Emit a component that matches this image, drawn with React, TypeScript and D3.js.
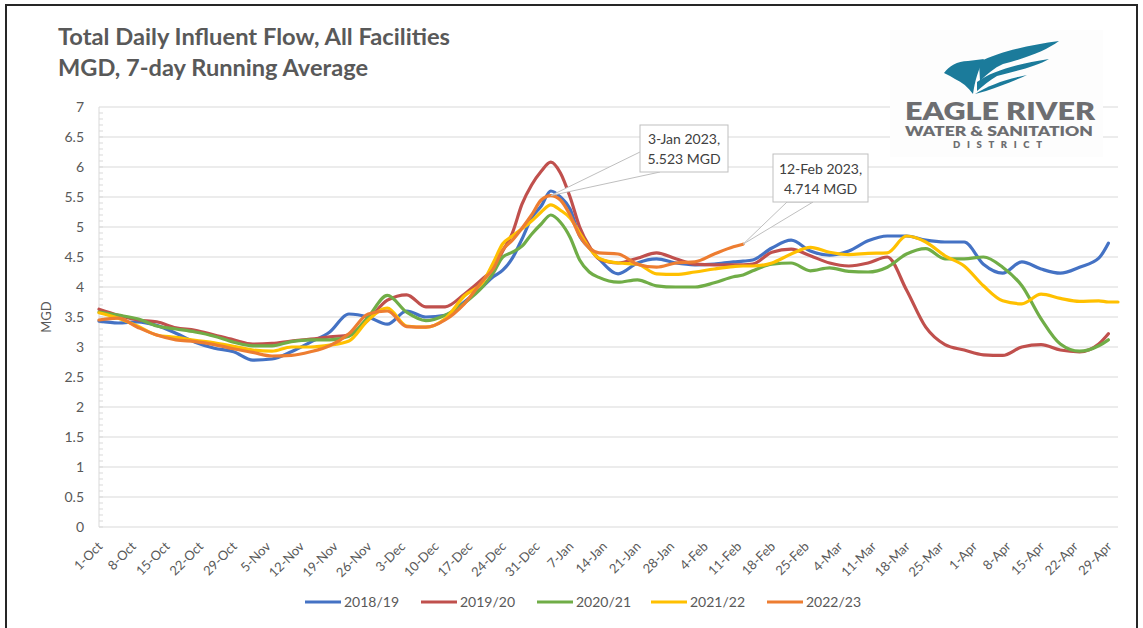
import React from 'react';
import * as d3 from 'd3';

// days since 1-Oct at which the curves were read
const sampleDays = [
  0, 4, 8, 12, 16, 20, 24, 28, 32, 36, 40, 44, 48, 52, 56, 60, 64, 68, 72, 76, 80,
  82, 84, 86, 88, 90, 92, 94, 96, 98, 100, 102, 104,
  108, 112, 116, 120, 124, 128, 132, 134,
  136, 140, 144, 148, 152, 156, 160, 164, 168, 172, 176, 180, 184, 188, 192, 196, 200, 204, 208,
  210, 212,
];

const flow2018 = [
  3.43, 3.40, 3.42, 3.36, 3.23, 3.08, 2.98, 2.92, 2.78, 2.80, 2.92, 3.08, 3.25, 3.55, 3.50, 3.38, 3.60, 3.50, 3.53, 3.75, 4.02,
  4.17, 4.28, 4.48, 4.80, 5.15, 5.35, 5.60, 5.50, 5.30, 4.85, 4.65, 4.47,
  4.22, 4.40, 4.47, 4.40, 4.37, 4.38, 4.42, 4.43,
  4.45, 4.65, 4.78, 4.60, 4.53, 4.60, 4.77, 4.85, 4.85, 4.78, 4.75, 4.75, 4.38, 4.23, 4.42, 4.30, 4.23, 4.33, 4.48,
  4.73, null,
];

const flow2019 = [
  3.63, 3.53, 3.45, 3.42, 3.32, 3.28, 3.20, 3.12, 3.05, 3.06, 3.10, 3.13, 3.17, 3.20, 3.45, 3.78, 3.87, 3.67, 3.67, 3.88, 4.15,
  4.30, 4.60, 4.90, 5.38, 5.70, 5.93, 6.08, 5.90, 5.50, 5.00, 4.68, 4.47,
  4.40, 4.48, 4.57, 4.47, 4.38, 4.37, 4.37, 4.37,
  4.38, 4.58, 4.63, 4.52, 4.40, 4.35, 4.40, 4.50, 3.95, 3.33, 3.04, 2.95, 2.87, 2.86, 3.00, 3.04, 2.95, 2.92, 3.05,
  3.22, null,
];

const flow2020 = [
  3.58, 3.53, 3.47, 3.35, 3.30, 3.25, 3.18, 3.08, 3.02, 3.02, 3.09, 3.12, 3.12, 3.18, 3.50, 3.86, 3.58, 3.44, 3.53, 3.73, 4.02,
  4.23, 4.50, 4.58, 4.68, 4.88, 5.05, 5.20, 5.08, 4.83, 4.45, 4.25, 4.16,
  4.08, 4.12, 4.02, 4.00, 4.00, 4.07, 4.17, 4.20,
  4.27, 4.38, 4.40, 4.27, 4.32, 4.26, 4.25, 4.33, 4.55, 4.64, 4.47, 4.47, 4.50, 4.33, 4.02, 3.47, 3.05, 2.93, 3.02,
  3.12, null,
];

const flow2021 = [
  3.57, 3.48, 3.35, 3.20, 3.16, 3.11, 3.07, 3.01, 2.95, 2.93, 3.00, 3.00, 3.03, 3.10, 3.45, 3.65, 3.35, 3.33, 3.47, 3.85, 4.10,
  4.40, 4.72, 4.85, 4.97, 5.10, 5.25, 5.37, 5.28, 5.15, 4.90, 4.65, 4.48,
  4.40, 4.38, 4.22, 4.21, 4.25, 4.30, 4.34, 4.35,
  4.35, 4.40, 4.55, 4.66, 4.58, 4.54, 4.56, 4.57, 4.85, 4.75, 4.52, 4.35, 4.02, 3.77, 3.72, 3.88, 3.81, 3.76, 3.77,
  3.75, 3.75,
];

const flow2022 = [
  3.45, 3.48, 3.33, 3.20, 3.12, 3.09, 3.04, 2.97, 2.91, 2.85, 2.86, 2.92, 3.02, 3.22, 3.55, 3.60, 3.34, 3.33, 3.45, 3.72, 4.12,
  4.30, 4.62, 4.78, 4.98, 5.20, 5.45, 5.523, 5.45, 5.20, 4.85, 4.65, 4.57,
  4.55, 4.38, 4.33, 4.40, 4.42, 4.55, 4.67, 4.714,
  null, null, null, null, null, null, null, null, null, null, null, null, null, null, null, null, null, null, null,
  null, null,
];

const seasons = ['2018/19', '2019/20', '2020/21', '2021/22', '2022/23'];
const seasonColors = ['#4472C4', '#C0504D', '#70AD47', '#FFC000', '#ED7D31'];
const seasonValues = [flow2018, flow2019, flow2020, flow2021, flow2022];

const tickLabels = [
  '1-Oct', '8-Oct', '15-Oct', '22-Oct', '29-Oct', '5-Nov', '12-Nov', '19-Nov', '26-Nov',
  '3-Dec', '10-Dec', '17-Dec', '24-Dec', '31-Dec', '7-Jan', '14-Jan', '21-Jan', '28-Jan',
  '4-Feb', '11-Feb', '18-Feb', '25-Feb', '4-Mar', '11-Mar', '18-Mar', '25-Mar',
  '1-Apr', '8-Apr', '15-Apr', '22-Apr', '29-Apr',
];

const yTicks = [0, 0.5, 1, 1.5, 2, 2.5, 3, 3.5, 4, 4.5, 5, 5.5, 6, 6.5, 7];

const callouts = [
  { day: 94, value: 5.523, lines: ['3-Jan 2023,', '5.523 MGD'] },
  { day: 134, value: 4.714, lines: ['12-Feb 2023,', '4.714 MGD'] },
];

const FONT = 'Lato, "Open Sans", sans-serif';
const GREY = '#595959';

export default function App() {
  const left = 99;
  const right = 1118;
  const top = 107;
  const bottom = 527;

  const x = d3.scaleLinear().domain([0, 212]).range([left, right]);
  const y = d3.scaleLinear().domain([0, 7]).range([bottom, top]);

  const line = d3
    .line<number | null>()
    .defined((v) => v != null)
    .x((_, i) => x(sampleDays[i]))
    .y((v) => y(v as number))
    .curve(d3.curveMonotoneX);

  const minorTicks = d3.range(0, 70).map((i) => i / 10);

  // legend layout
  const legendX = [305, 421, 537, 651, 767];

  const c1 = callouts[0];
  const c2 = callouts[1];
  const p1 = { x: x(c1.day), y: y(c1.value) };
  const p2 = { x: x(c2.day), y: y(c2.value) };
  const box1 = { x: 640, y: 125, w: 88, h: 47 };
  const box2 = { x: 773, y: 154, w: 95, h: 48 };

  return (
    <svg
      width={1143}
      height={628}
      style={{ position: 'absolute', left: 0, top: 0, background: '#fff' }}
      fontFamily={FONT}
    >
      <rect x={0} y={0} width={1143} height={628} fill="#fff" />
      {/* outer frame */}
      <rect x={6} y={5} width={1131} height={640} fill="none" stroke="#262626" strokeWidth={2} />

      {/* title */}
      <text x={58} y={45} fontSize={22} fontWeight={700} fill={GREY} textLength={392} lengthAdjust="spacingAndGlyphs">
        Total Daily Influent Flow, All Facilities
      </text>
      <text x={58} y={76} fontSize={22} fontWeight={700} fill={GREY} textLength={310} lengthAdjust="spacingAndGlyphs">
        MGD, 7-day Running Average
      </text>

      {/* gridlines */}
      {yTicks.map((t) => (
        <line key={t} x1={left} x2={right} y1={y(t)} y2={y(t)} stroke="#d9d9d9" strokeWidth={1} />
      ))}
      <line x1={left} x2={left} y1={top} y2={bottom} stroke="#d9d9d9" />
      {minorTicks.map((t) => (
        <line key={'m' + t} x1={left} x2={left + 4} y1={y(t)} y2={y(t)} stroke="#d9d9d9" />
      ))}

      {/* y labels */}
      {yTicks.map((t) => (
        <text key={'l' + t} x={84} y={y(t)} dy="0.35em" textAnchor="end" fontSize={14} fill={GREY}>
          {t}
        </text>
      ))}
      <text transform={`translate(51,${(top + bottom) / 2}) rotate(-90)`} textAnchor="middle" fontSize={13} fill={GREY}>
        MGD
      </text>

      {/* x labels */}
      {tickLabels.map((lab, i) => {
        const tx = x(i * 7);
        return (
          <text
            key={lab}
            transform={`translate(${tx + 1},${bottom + 17}) rotate(-45)`}
            textAnchor="end"
            dy="0.35em"
            fontSize={13}
            fill={GREY}
          >
            {lab}
          </text>
        );
      })}

      {/* logo */}
      <rect x={890} y={30} width={213} height={127} fill="#fdfdfd" />
      <g fill="#1B7B9B">
        <path d="M944,73 C949,66 957,61 968,61 L984,59 C978,70 975,81 973,94 C968,87 962,82 955,79 L950,76 Z" />
        <path d="M979,62 C1000,51 1030,45 1059,41 C1047,50 1027,58 1003,64 C994,68 987,74 980,81 Z" />
        <path d="M977,82 C992,71 1016,64 1049,59 C1037,66 1017,71 997,76 C990,80 984,85 977,91 Z" />
        <path d="M975,94 C989,85 1006,79 1027,75 C1014,81 1000,86 986,91 Z" />
      </g>
      <text x={905} y={120} fontSize={24} fontWeight={800} fill="#6D6E71" textLength={190} lengthAdjust="spacingAndGlyphs">
        EAGLE RIVER
      </text>
      <text x={905} y={136} fontSize={12.5} fontWeight={800} fill="#6D6E71" textLength={188} lengthAdjust="spacingAndGlyphs">
        WATER &amp; SANITATION
      </text>
      <text x={953} y={148} fontSize={9.5} fontWeight={800} fill="#6D6E71" textLength={89} lengthAdjust="spacing">
        DISTRICT
      </text>

      {/* series */}
      {seasonValues.map((vals, i) => (
        <path
          key={seasons[i]}
          d={line(vals) || ''}
          fill="none"
          stroke={seasonColors[i]}
          strokeWidth={3.2}
          strokeLinejoin="round"
          strokeLinecap="round"
        />
      ))}

      {/* callouts */}
      <polygon
        points={`${box1.x},${box1.y + 27} ${p1.x},${p1.y} ${box1.x + 20},${box1.y + box1.h}`}
        fill="#fff"
        stroke="#bfbfbf"
      />
      <rect x={box1.x} y={box1.y} width={box1.w} height={box1.h} fill="#fff" stroke="#bfbfbf" />
      {c1.lines.map((t, j) => (
        <text key={t} x={box1.x + box1.w / 2} y={box1.y + 19 + j * 20} textAnchor="middle" fontSize={14} fill="#404040">
          {t}
        </text>
      ))}
      <polygon
        points={`${box2.x + 14},${box2.y + box2.h} ${p2.x},${p2.y} ${box2.x + 40},${box2.y + box2.h}`}
        fill="#fff"
        stroke="#bfbfbf"
      />
      <rect x={box2.x} y={box2.y} width={box2.w} height={box2.h} fill="#fff" stroke="#bfbfbf" />
      {c2.lines.map((t, j) => (
        <text key={t} x={box2.x + box2.w / 2} y={box2.y + 20 + j * 20} textAnchor="middle" fontSize={14} fill="#404040">
          {t}
        </text>
      ))}

      {/* legend */}
      {seasons.map((s, i) => (
        <g key={'lg' + s} transform={`translate(${legendX[i]},602)`}>
          <line x1={0} x2={36} y1={0} y2={0} stroke={seasonColors[i]} strokeWidth={3.2} />
          <text x={39} y={0} dy="0.35em" fontSize={14} fill={GREY}>
            {s}
          </text>
        </g>
      ))}
    </svg>
  );
}
